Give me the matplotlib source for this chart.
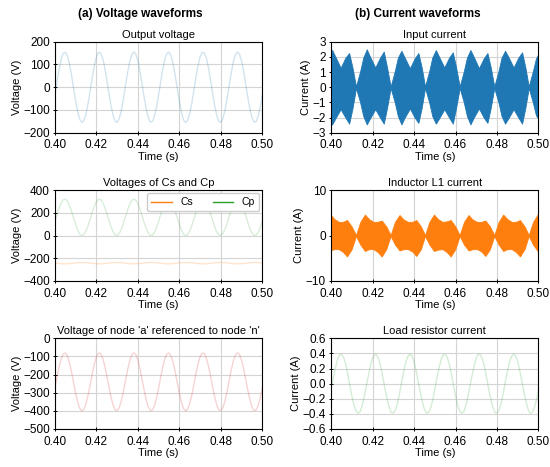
import numpy as np
import matplotlib
matplotlib.use("Agg")
import matplotlib.pyplot as plt
from matplotlib.lines import Line2D

plt.rcParams['font.family'] = ['Liberation Sans', 'DejaVu Sans']

# sample times of the sine traces (1 ms grid) and of Cs (2 ms grid)
t = np.linspace(0.40, 0.50, 101)
t2 = np.linspace(0.40, 0.50, 51)

out_v = [-32, 26, 80, 124, 149, 154, 137, 101, 51, -7, -63, -111, -143, -155, -145, -115, -69, -13, 45, 96,
         134, 153, 151, 127, 86, 32, -26, -80, -124, -149, -154, -137, -101, -51, 7, 63, 111, 143, 155, 145,
         115, 69, 13, -45, -96, -134, -153, -151, -127, -86,
         -32, 26, 80, 124, 149, 154, 137, 101, 51, -7, -63, -111, -143, -155, -145, -115, -69, -13, 45, 96,
         134, 153, 151, 127, 86, 32, -26, -80, -124, -149, -154, -137, -101, -51, 7, 63, 111, 143, 155, 145,
         115, 69, 13, -45, -96, -134, -153, -151, -127, -86, -32]

v_cp = [127, 187, 243, 288, 314, 319, 302, 264, 213, 153, 95, 46, 12, 0, 10, 41, 89, 147, 206, 259,
        299, 318, 316, 291, 248, 193, 133, 77, 32, 6, 1, 18, 56, 107, 167, 225, 274, 308, 320, 310,
        279, 231, 173, 114, 61, 21, 2, 4, 29, 72,
        127, 187, 243, 288, 314, 319, 302, 264, 213, 153, 95, 46, 12, 0, 10, 41, 89, 147, 206, 259,
        299, 318, 316, 291, 248, 193, 133, 77, 32, 6, 1, 18, 56, 107, 167, 225, 274, 308, 320, 310,
        279, 231, 173, 114, 61, 21, 2, 4, 29, 72, 127]

v_cs = [-242, -246, -249, -248, -245, -241, -238, -237, -240, -245, -248, -249, -246, -242, -238, -237,
        -239, -243, -247, -249, -247, -244, -239, -237, -238,
        -242, -246, -249, -248, -245, -241, -238, -237, -240, -245, -248, -249, -246, -242, -238, -237,
        -239, -243, -247, -249, -247, -244, -239, -237, -238, -242]

v_an = [-273, -213, -157, -112, -86, -81, -98, -136, -187, -247, -305, -354, -388, -400, -390, -359, -311,
        -253, -194, -141, -101, -82, -84, -109, -152, -207, -267, -323, -368, -394, -399, -382, -344, -293,
        -233, -175, -126, -92, -80, -90, -121, -169, -227, -286, -339, -379, -398, -396, -371, -328,
        -273, -213, -157, -112, -86, -81, -98, -136, -187, -247, -305, -354, -388, -400, -390, -359, -311,
        -253, -194, -141, -101, -82, -84, -109, -152, -207, -267, -323, -368, -394, -399, -382, -344, -293,
        -233, -175, -126, -92, -80, -90, -121, -169, -227, -286, -339, -379, -398, -396, -371, -328, -273]

i_load = [-0.08, 0.07, 0.20, 0.31, 0.38, 0.39, 0.35, 0.26, 0.13, -0.02, -0.16, -0.28, -0.36, -0.39, -0.37,
          -0.29, -0.17, -0.03, 0.11, 0.24, 0.34, 0.39, 0.38, 0.32, 0.22, 0.08, -0.07, -0.20, -0.31, -0.38,
          -0.39, -0.35, -0.26, -0.13, 0.02, 0.16, 0.28, 0.36, 0.39, 0.37, 0.29, 0.17, 0.03, -0.11, -0.24,
          -0.34, -0.39, -0.38, -0.32, -0.22,
          -0.08, 0.07, 0.20, 0.31, 0.38, 0.39, 0.35, 0.26, 0.13, -0.02, -0.16, -0.28, -0.36, -0.39, -0.37,
          -0.29, -0.17, -0.03, 0.11, 0.24, 0.34, 0.39, 0.38, 0.32, 0.22, 0.08, -0.07, -0.20, -0.31, -0.38,
          -0.39, -0.35, -0.26, -0.13, 0.02, 0.16, 0.28, 0.36, 0.39, 0.37, 0.29, 0.17, 0.03, -0.11, -0.24,
          -0.34, -0.39, -0.38, -0.32, -0.22, -0.08]

# envelopes of the switching-frequency currents
t_in = [0.4000, 0.4005, 0.4021, 0.4046, 0.4069, 0.4087, 0.4103,
        0.4120, 0.4140, 0.4155, 0.4172, 0.4188, 0.4213, 0.4236, 0.4254, 0.4270,
        0.4287, 0.4307, 0.4322, 0.4339, 0.4355, 0.4380, 0.4403, 0.4421, 0.4437,
        0.4453, 0.4473, 0.4488, 0.4505, 0.4521, 0.4546, 0.4569, 0.4587, 0.4603,
        0.4620, 0.4640, 0.4655, 0.4672, 0.4688, 0.4713, 0.4736, 0.4754, 0.4770,
        0.4787, 0.4807, 0.4822, 0.4839, 0.4855, 0.4880, 0.4903, 0.4921, 0.4937,
        0.4953, 0.4973, 0.4988, 0.5000]
in_top = [2.40, 2.45, 2.00, 1.28, 1.95, 2.25, 1.30,
          0.05, 1.05, 1.95, 2.50, 2.00, 1.30, 1.95, 2.35, 1.30,
          0.05, 1.05, 1.95, 2.40, 1.95, 1.25, 1.90, 2.25, 1.30,
          0.05, 1.05, 1.95, 2.45, 2.00, 1.30, 1.95, 2.30, 1.30,
          0.05, 1.05, 1.95, 2.45, 2.00, 1.25, 1.90, 2.25, 1.30,
          0.05, 1.05, 1.95, 2.40, 2.00, 1.30, 1.95, 2.30, 1.30,
          0.05, 1.05, 1.90, 2.20]
in_bot = [-2.45, -2.45, -2.05, -1.45, -2.00, -2.40, -1.40,
          -0.05, -1.00, -1.90, -2.45, -2.05, -1.45, -2.00, -2.40, -1.35,
          -0.05, -1.00, -1.90, -2.45, -2.00, -1.40, -2.00, -2.35, -1.35,
          -0.05, -1.00, -1.90, -2.40, -2.05, -1.45, -2.00, -2.40, -1.35,
          -0.05, -1.00, -1.90, -2.45, -2.00, -1.40, -2.00, -2.35, -1.35,
          -0.05, -1.00, -1.90, -2.40, -2.05, -1.45, -2.00, -2.40, -1.35,
          -0.05, -1.00, -1.85, -2.10]

t_l1 = [0.4000, 0.4016, 0.4037, 0.4057, 0.4077, 0.4099,
        0.4120, 0.4141, 0.4163, 0.4183, 0.4204, 0.4224, 0.4244, 0.4266,
        0.4287, 0.4308, 0.4330, 0.4350, 0.4371, 0.4391, 0.4411, 0.4433,
        0.4453, 0.4474, 0.4496, 0.4516, 0.4537, 0.4557, 0.4577, 0.4599,
        0.4620, 0.4641, 0.4663, 0.4683, 0.4704, 0.4724, 0.4744, 0.4766,
        0.4787, 0.4808, 0.4830, 0.4850, 0.4871, 0.4891, 0.4911, 0.4933,
        0.4953, 0.4974, 0.4996, 0.5000]
l1_top = [4.5, 3.6, 3.0, 3.0, 3.4, 2.0,
          0.1, 3.0, 4.6, 3.6, 3.0, 3.0, 3.3, 2.0,
          0.1, 3.0, 4.5, 3.5, 3.0, 3.0, 3.4, 2.0,
          0.1, 3.0, 4.6, 3.6, 3.0, 3.1, 3.4, 2.0,
          0.1, 3.0, 4.5, 3.5, 3.0, 3.0, 3.3, 2.0,
          0.1, 3.0, 4.6, 3.6, 3.0, 3.0, 3.4, 2.0,
          0.1, 3.0, 4.6, 4.4]
l1_bot = [-3.2, -3.0, -3.0, -3.6, -4.6, -3.0,
          -0.1, -2.0, -3.4, -3.0, -3.0, -3.6, -4.6, -3.0,
          -0.1, -2.0, -3.3, -3.0, -3.0, -3.5, -4.5, -3.0,
          -0.1, -2.0, -3.4, -3.1, -3.0, -3.6, -4.6, -3.0,
          -0.1, -2.0, -3.3, -3.0, -3.0, -3.5, -4.5, -3.0,
          -0.1, -2.0, -3.4, -3.0, -3.0, -3.6, -4.6, -3.0,
          -0.1, -2.0, -3.4, -3.3]

xticks = [0.40, 0.42, 0.44, 0.46, 0.48, 0.50]

fig = plt.figure(figsize=(5.5, 4.67), dpi=100)
lx, rx, w = 0.100, 0.602, 0.377
rows = [(0.7158, 0.1949), (0.3983, 0.1948), (0.0814, 0.1942)]
axes = [[fig.add_axes([lx, b, w, h]), fig.add_axes([rx, b, w, h])] for b, h in rows]


def style(ax, title, ylabel, ylim, yticks, fmt=None):
    ax.set_xlim(0.40, 0.50)
    ax.set_ylim(*ylim)
    ax.set_xticks(xticks)
    ax.set_xticklabels([f"{x:.2f}" for x in xticks])
    ax.set_yticks(yticks)
    if fmt:
        ax.set_yticklabels([fmt.format(y).replace('-', '\u2212') for y in yticks])
    ax.grid(True, color='#d4d4d4', lw=0.8)
    ax.set_axisbelow(True)
    ax.tick_params(labelsize=8.5, length=3.5, width=0.7, direction='inout')
    ax.tick_params(axis='x', pad=3)
    ax.tick_params(axis='y', pad=2)
    ax.set_title(title, fontsize=8, pad=3)
    ax.set_xlabel("Time (s)", fontsize=8, labelpad=0.5)
    ax.set_ylabel(ylabel, fontsize=8, labelpad=1)
    for sp in ax.spines.values():
        sp.set_linewidth(0.8)


ax = axes[0][0]
ax.plot(t, out_v, color='tab:blue', lw=1.0, alpha=0.2)
style(ax, "Output voltage", "Voltage (V)", (-200, 200), [-200, -100, 0, 100, 200])

ax = axes[1][0]
ax.plot(t2, v_cs, color='tab:orange', lw=1.0, alpha=0.2)
ax.plot(t, v_cp, color='tab:green', lw=1.0, alpha=0.18)
style(ax, "Voltages of Cs and Cp", "Voltage (V)", (-400, 400), [-400, -200, 0, 200, 400])
handles = [Line2D([], [], color='tab:orange', lw=1), Line2D([], [], color='tab:green', lw=1)]
ax.legend(handles, ["Cs", "Cp"], loc='upper right', ncol=2, fontsize=7.5, handlelength=2.0,
          handletextpad=0.8, columnspacing=1.9, borderaxespad=0.3, framealpha=1,
          edgecolor='#cccccc', fancybox=True)

ax = axes[2][0]
ax.plot(t, v_an, color='tab:red', lw=1.0, alpha=0.2)
style(ax, "Voltage of node 'a' referenced to node 'n'", "Voltage (V)", (-500, 0),
      [-500, -400, -300, -200, -100, 0])

ax = axes[0][1]
ax.fill_between(t_in, in_bot, in_top, color='tab:blue', lw=0.6, edgecolor='tab:blue')
style(ax, "Input current", "Current (A)", (-3, 3), [-3, -2, -1, 0, 1, 2, 3])

ax = axes[1][1]
ax.fill_between(t_l1, l1_bot, l1_top, color='tab:orange', lw=0.6, edgecolor='tab:orange')
style(ax, "Inductor L1 current", "Current (A)", (-10, 10), [-10, 0, 10])

ax = axes[2][1]
ax.plot(t, i_load, color='tab:green', lw=1.0, alpha=0.2)
style(ax, "Load resistor current", "Current (A)", (-0.6, 0.6), [-0.6, -0.4, -0.2, 0.0, 0.2, 0.4, 0.6], "{:.1f}")

fig.text(0.255, 0.982, "(a) Voltage waveforms", ha='center', va='top', fontsize=8.5, fontweight='bold')
fig.text(0.760, 0.982, "(b) Current waveforms", ha='center', va='top', fontsize=8.5, fontweight='bold')

fig.savefig("out.png", dpi=100)
